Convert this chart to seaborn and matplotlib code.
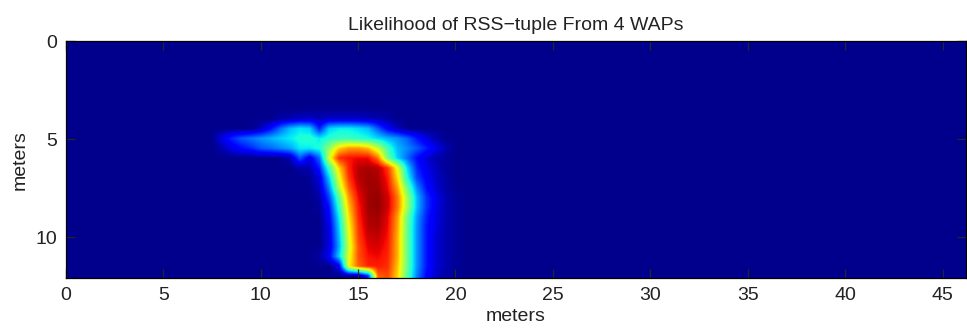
import numpy as np
import seaborn as sns
import matplotlib.pyplot as plt

# likelihood, 0.5 m grid, only the region that is not background
x_cols = [7.5, 8.0, 8.5, 9.0, 9.5, 10.0, 10.5, 11.0, 11.5, 12.0, 12.5, 13.0, 13.5,
          14.0, 14.5, 15.0, 15.5, 16.0, 16.5, 17.0, 17.5, 18.0, 18.5, 19.0, 19.5, 20.0]
y_rows = [4.0, 4.5, 5.0, 5.5, 6.0, 6.5, 7.0, 7.5, 8.0, 8.5, 9.0, 9.5, 10.0, 10.5, 11.0, 11.5, 12.0]

y40 = [0, 0, 0, 0, 0, 0, 0, 0.02, 0.03, 0.05, 0.05, 0.04, 0.05,
       0.05, 0.05, 0.05, 0.04, 0.03, 0.02, 0, 0, 0, 0, 0, 0, 0]
y45 = [0, 0, 0, 0, 0, 0.04, 0.12, 0.22, 0.3, 0.34, 0.32, 0.14, 0.32,
       0.35, 0.35, 0.33, 0.3, 0.2, 0.1, 0.04, 0, 0, 0, 0, 0, 0]
y50 = [0, 0.08, 0.15, 0.2, 0.23, 0.26, 0.29, 0.32, 0.35, 0.38, 0.39, 0.35, 0.39,
       0.41, 0.41, 0.39, 0.37, 0.33, 0.29, 0.26, 0.21, 0.13, 0.07, 0.03, 0, 0]
y55 = [0, 0.03, 0.08, 0.12, 0.15, 0.2, 0.22, 0.25, 0.28, 0.35, 0.35, 0.38, 0.52,
       0.68, 0.74, 0.74, 0.7, 0.58, 0.42, 0.3, 0.25, 0.2, 0.14, 0.08, 0.03, 0]
y60 = [0, 0, 0, 0, 0, 0, 0, 0, 0.03, 0.2, 0.08, 0.22, 0.6,
       0.86, 0.89, 0.9, 0.9, 0.78, 0.48, 0.32, 0.22, 0.12, 0.06, 0.03, 0.01, 0]
y65 = [0, 0, 0, 0, 0, 0, 0, 0, 0, 0.02, 0.03, 0.14, 0.42,
       0.68, 0.87, 0.95, 0.96, 0.95, 0.85, 0.62, 0.33, 0.15, 0.08, 0.04, 0.01, 0]
y70 = [0, 0, 0, 0, 0, 0, 0, 0, 0, 0, 0.01, 0.07, 0.32,
       0.62, 0.85, 0.95, 0.97, 0.96, 0.88, 0.67, 0.38, 0.18, 0.1, 0.05, 0.02, 0]
y75 = [0, 0, 0, 0, 0, 0, 0, 0, 0, 0, 0, 0.05, 0.25,
       0.56, 0.8, 0.93, 0.97, 0.97, 0.9, 0.73, 0.47, 0.25, 0.12, 0.06, 0.02, 0]
y80 = [0, 0, 0, 0, 0, 0, 0, 0, 0, 0, 0, 0.02, 0.18,
       0.45, 0.74, 0.9, 0.97, 0.98, 0.93, 0.78, 0.54, 0.3, 0.16, 0.08, 0.03, 0.01]
y85 = [0, 0, 0, 0, 0, 0, 0, 0, 0, 0, 0, 0.01, 0.13,
       0.4, 0.7, 0.88, 0.97, 0.98, 0.93, 0.78, 0.54, 0.3, 0.16, 0.08, 0.03, 0.01]
y90 = [0, 0, 0, 0, 0, 0, 0, 0, 0, 0, 0, 0, 0.1,
       0.35, 0.66, 0.87, 0.96, 0.97, 0.91, 0.74, 0.48, 0.27, 0.14, 0.07, 0.03, 0.01]
y95 = [0, 0, 0, 0, 0, 0, 0, 0, 0, 0, 0, 0, 0.08,
       0.32, 0.63, 0.85, 0.95, 0.96, 0.9, 0.73, 0.47, 0.26, 0.13, 0.07, 0.03, 0.01]
y100 = [0, 0, 0, 0, 0, 0, 0, 0, 0, 0, 0, 0, 0.07,
        0.3, 0.61, 0.84, 0.93, 0.94, 0.89, 0.72, 0.47, 0.26, 0.13, 0.06, 0.03, 0.01]
y105 = [0, 0, 0, 0, 0, 0, 0, 0, 0, 0, 0, 0, 0.07,
        0.28, 0.59, 0.82, 0.91, 0.92, 0.88, 0.72, 0.47, 0.26, 0.13, 0.06, 0.03, 0.01]
y110 = [0, 0, 0, 0, 0, 0, 0, 0, 0, 0, 0, 0.02, 0.1,
        0.32, 0.61, 0.82, 0.89, 0.9, 0.87, 0.72, 0.47, 0.26, 0.13, 0.06, 0.03, 0.01]
y115 = [0, 0, 0, 0, 0, 0, 0, 0, 0, 0, 0, 0, 0,
        0.08, 0.64, 0.8, 0.87, 0.88, 0.86, 0.7, 0.47, 0.26, 0.13, 0.06, 0.03, 0.01]
y120 = [0, 0, 0, 0, 0, 0, 0, 0, 0, 0, 0, 0, 0,
        0, 0, 0, 0.15, 0.8, 0.83, 0.68, 0.45, 0.24, 0.11, 0.05, 0.02, 0.01]

block = np.array([y40, y45, y50, y55, y60, y65, y70, y75, y80, y85,
                  y90, y95, y100, y105, y110, y115, y120])

# whole room is 0..46 m by 0..12 m on the same 0.5 m grid, background zero
step = 0.5
grid = np.zeros((25, 93))
r0 = int(round(y_rows[0] / step))
c0 = int(round(x_cols[0] / step))
grid[r0:r0 + len(y_rows), c0:c0 + len(x_cols)] = block

sns.set_theme(style="ticks")
plt.rcParams['font.family'] = ['Liberation Sans', 'DejaVu Sans']

fig, ax = plt.subplots(figsize=(9.67, 3.32), dpi=100)
fig.subplots_adjust(left=0.068, right=0.999, top=0.8765, bottom=0.162)

ax.imshow(grid, cmap="jet", vmin=-0.014, vmax=1, interpolation="bilinear",
          extent=(-step / 2, 46 + step / 2, 12 + step / 2, -step / 2), aspect="auto")
ax.set_xlim(0, 46.2)
ax.set_ylim(12.1, 0)
ax.set_xticks(range(0, 46, 5))
ax.set_yticks([0, 5, 10])
ax.tick_params(direction="in", top=True, right=True, length=6.5, width=0.9,
               labelsize=14, labelcolor="#222222", pad=6)
for s in ax.spines.values():
    s.set_linewidth(0.9)
    s.set_color("black")

ax.set_xlabel("meters", fontsize=14, color="#222222", labelpad=3)
ax.set_ylabel("meters", fontsize=14, color="#222222", labelpad=5)
ax.set_title("Likelihood of RSS\u2212tuple From 4 WAPs", fontsize=14, color="#222222", pad=8)

plt.savefig("out.png", dpi=100)
